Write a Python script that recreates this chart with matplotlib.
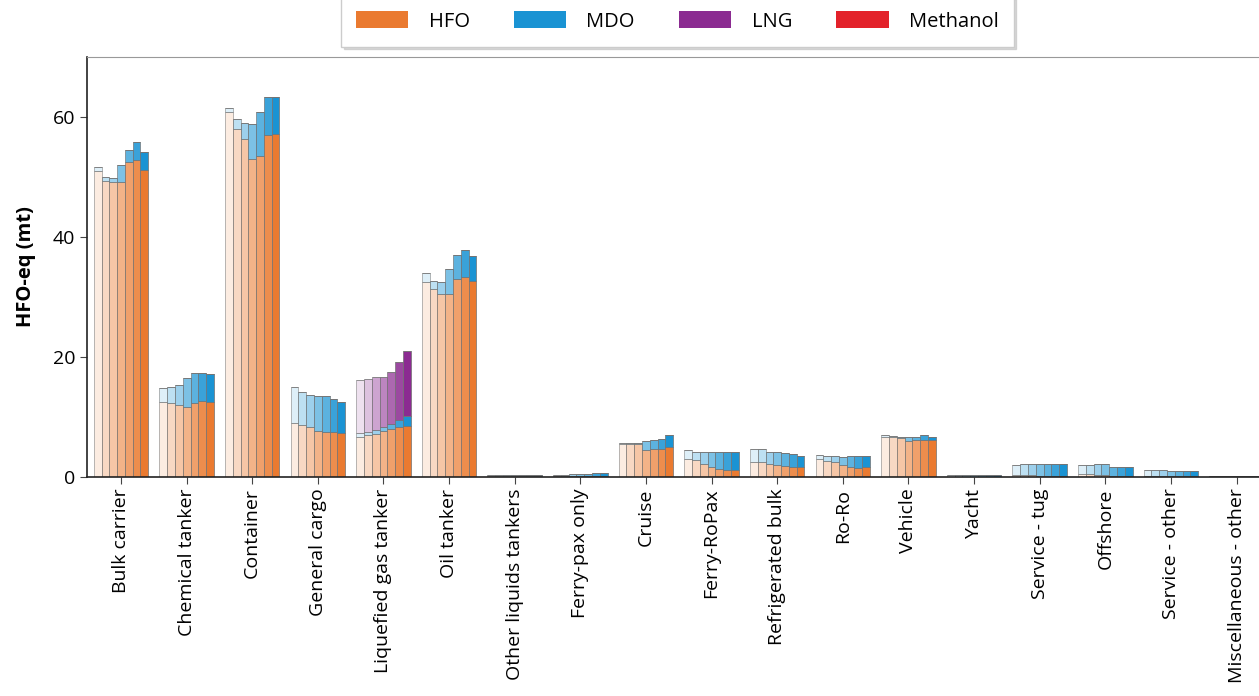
import numpy as np
import matplotlib
matplotlib.use("Agg")
import matplotlib.pyplot as plt
from matplotlib.patches import Patch

plt.rcParams["font.family"] = ["Open Sans", "DejaVu Sans"]

categories = ["Bulk carrier", "Chemical tanker", "Container", "General cargo",
              "Liquefied gas tanker", "Oil tanker", "Other liquids tankers",
              "Ferry-pax only", "Cruise", "Ferry-RoPax", "Refrigerated bulk",
              "Ro-Ro", "Vehicle", "Yacht", "Service - tug", "Offshore",
              "Service - other", "Miscellaneous - other"]
years = [2012, 2013, 2014, 2015, 2016, 2017, 2018]

# HFO-eq (mt), one row per category, one value per year
hfo = [
    [51.0, 49.3, 49.2, 49.2, 52.5, 52.8, 51.2],
    [12.5, 12.3, 12.0, 11.7, 12.3, 12.6, 12.5],
    [60.8, 58.0, 56.3, 53.0, 53.5, 57.0, 57.2],
    [9.0, 8.7, 8.3, 7.6, 7.5, 7.4, 7.3],
    [6.7, 7.0, 7.2, 7.7, 8.0, 8.3, 8.5],
    [32.5, 31.3, 30.5, 30.5, 33.0, 33.3, 32.7],
    [0.1, 0.1, 0.1, 0.1, 0.1, 0.1, 0.1],
    [0.05, 0.05, 0.05, 0.05, 0.05, 0.05, 0.05],
    [5.5, 5.5, 5.5, 4.5, 4.7, 4.7, 5.0],
    [2.9, 2.8, 2.2, 1.6, 1.3, 1.2, 1.2],
    [2.5, 2.4, 2.2, 1.9, 1.8, 1.7, 1.6],
    [2.9, 2.7, 2.4, 1.9, 1.6, 1.5, 1.6],
    [6.7, 6.6, 6.5, 6.0, 6.2, 6.2, 6.1],
    [0.02, 0.02, 0.02, 0.02, 0.02, 0.02, 0.02],
    [0.3, 0.3, 0.3, 0.2, 0.2, 0.2, 0.2],
    [0.4, 0.4, 0.3, 0.3, 0.2, 0.2, 0.2],
    [0.2, 0.2, 0.2, 0.1, 0.1, 0.1, 0.1],
    [0.05, 0.05, 0.05, 0.05, 0.05, 0.05, 0.05],
]
mdo = [
    [0.7, 0.7, 0.6, 2.8, 2.0, 3.0, 3.0],
    [2.3, 2.6, 3.3, 4.8, 5.0, 4.7, 4.6],
    [0.7, 1.7, 2.7, 5.8, 7.3, 6.3, 6.1],
    [6.0, 5.5, 5.4, 5.9, 6.0, 5.6, 5.1],
    [0.6, 0.5, 0.6, 0.6, 0.8, 1.2, 1.7],
    [1.5, 1.4, 2.0, 4.2, 4.0, 4.5, 4.1],
    [0.2, 0.2, 0.2, 0.2, 0.2, 0.2, 0.2],
    [0.3, 0.3, 0.35, 0.4, 0.45, 0.5, 0.5],
    [0.1, 0.1, 0.2, 1.5, 1.4, 1.6, 2.0],
    [1.5, 1.3, 1.9, 2.5, 2.8, 2.9, 2.9],
    [2.2, 2.2, 2.0, 2.2, 2.1, 2.1, 1.9],
    [0.7, 0.8, 1.0, 1.4, 1.8, 1.9, 1.8],
    [0.3, 0.2, 0.2, 0.6, 0.5, 0.7, 0.6],
    [0.25, 0.3, 0.3, 0.3, 0.35, 0.35, 0.35],
    [1.7, 1.8, 1.9, 1.9, 1.9, 1.9, 1.9],
    [1.6, 1.6, 1.9, 1.8, 1.5, 1.5, 1.5],
    [0.9, 0.9, 0.9, 0.9, 0.9, 0.9, 0.9],
    [0.15, 0.15, 0.15, 0.15, 0.15, 0.15, 0.15],
]
lng = [[0.0] * 7 for _ in categories]
lng[4] = [8.9, 8.8, 8.8, 8.4, 8.6, 9.7, 10.7]
lng[9] = [0.0, 0.0, 0.0, 0.0, 0.05, 0.05, 0.05]
methanol = [[0.0] * 7 for _ in categories]
methanol[1] = [0.0, 0.0, 0.0, 0.0, 0.05, 0.05, 0.05]

fuels = ["HFO", "MDO", "LNG", "Methanol"]
colors = {"HFO": "#ea7a30", "MDO": "#1a93d3", "LNG": "#8b2b91", "Methanol": "#e3222a"}
series = {"HFO": hfo, "MDO": mdo, "LNG": lng, "Methanol": methanol}

fig = plt.figure(figsize=(12.59, 6.96), dpi=100)
ax = fig.add_axes([0.069, 0.315, 0.934, 0.603])

x = np.arange(len(categories))
n = len(years)
w = 0.83 / n
alphas = np.linspace(1.0 / n, 1.0, n)

for j in range(n):
    pos = x - 0.415 + w * (j + 0.5)
    bottom = np.zeros(len(categories))
    for f in fuels:
        vals = np.array([row[j] for row in series[f]])
        fc = matplotlib.colors.to_rgba(colors[f], alphas[j])
        ax.bar(pos, vals, w, bottom=bottom, color=fc,
               edgecolor=(0.45, 0.45, 0.45, 0.55 + 0.3 * alphas[j]), linewidth=0.6)
        bottom += vals

ax.set_xlim(-0.52, 17.4)
ax.set_ylim(0, 70)
ax.set_yticks([0, 20, 40, 60])
ax.set_xticks(x)
ax.set_xticklabels(categories, rotation=90, fontsize=14)
ax.tick_params(axis="y", labelsize=14, length=5, color="#444")
ax.tick_params(axis="x", length=5, color="#444")
ax.set_ylabel("HFO-eq (mt)", fontsize=14.5, fontweight="bold", labelpad=12)
for s in ["left", "bottom"]:
    ax.spines[s].set_color("#222")
    ax.spines[s].set_linewidth(1.2)
for s in ["top", "right"]:
    ax.spines[s].set_color("#999")
    ax.spines[s].set_linewidth(0.8)

handles = [Patch(facecolor=colors[f], label=f) for f in fuels]
fig.legend(handles=handles, loc="upper center", bbox_to_anchor=(0.538, 1.02),
           ncol=4, fontsize=14.5, handlelength=2.6, handleheight=0.9,
           columnspacing=2.2, handletextpad=1.0, frameon=True,
           shadow={"color": "0.75", "alpha": 0.6}, fancybox=False,
           edgecolor="#ccc", borderpad=0.75)

fig.savefig("out.png", dpi=100)
